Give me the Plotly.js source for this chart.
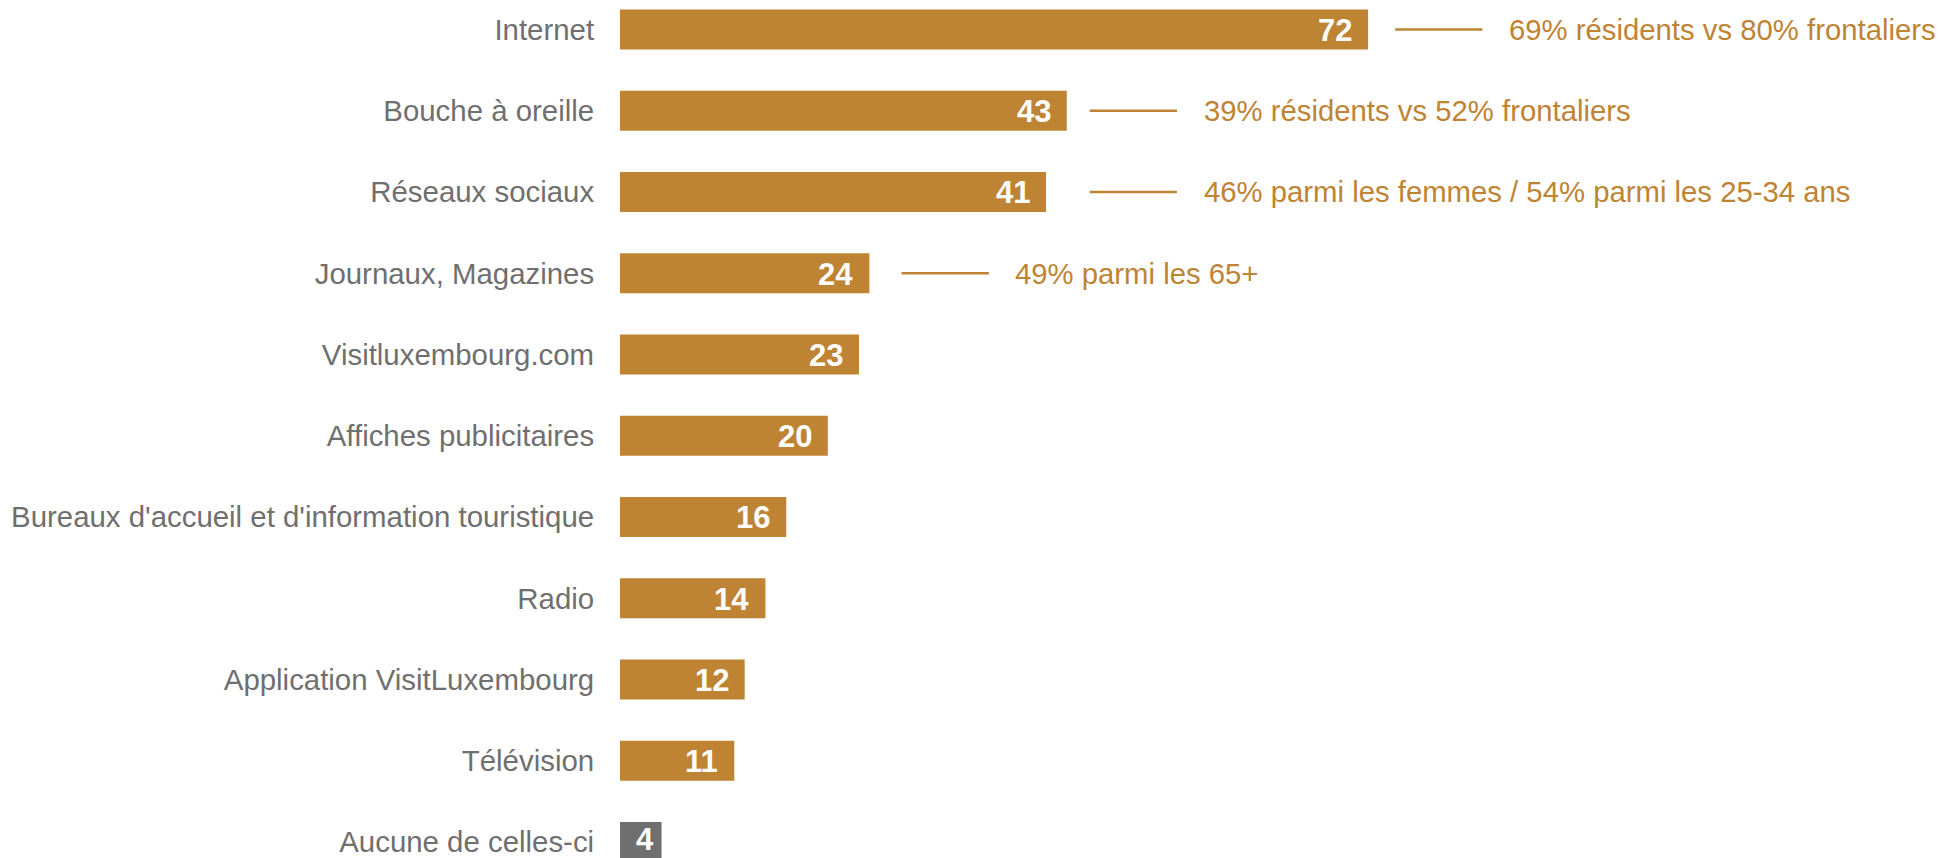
<!DOCTYPE html>
<html>
<head>
<meta charset="utf-8">
<script src="https://cdn.plot.ly/plotly-3.0.1.min.js"></script>
<style>
html,body{margin:0;padding:0;background:#fff;}
#chart{width:1943px;height:858px;}
</style>
</head>
<body>
<div id="chart"></div>
<script>
// ---- data ----
const categories = [
  "Internet",
  "Bouche à oreille",
  "Réseaux sociaux",
  "Journaux, Magazines",
  "Visitluxembourg.com",
  "Affiches publicitaires",
  "Bureaux d'accueil et d'information touristique",
  "Radio",
  "Application VisitLuxembourg",
  "Télévision",
  "Aucune de celles-ci"
];
const values = [72, 43, 41, 24, 23, 20, 16, 14, 12, 11, 4];
const noteCategories = ["Internet", "Bouche à oreille", "Réseaux sociaux", "Journaux, Magazines"];
const noteTexts = [
  "69% résidents vs 80% frontaliers",
  "39% résidents vs 52% frontaliers",
  "46% parmi les femmes / 54% parmi les 25-34 ans",
  "49% parmi les 65+"
];

// ---- styling / layout ----
const GOLD = "#BF8334";
const GREY = "#6F6F6F";
const FONT = "'Liberation Sans', Arial, sans-serif";
// connector line [start, end] and text start, in x-axis units, per note
const noteGeom = [
  {x0: 74.6, x1: 83.0, tx: 85.4},
  {x0: 45.2, x1: 53.6, tx: 56.0},
  {x0: 45.2, x1: 53.6, tx: 56.0},
  {x0: 27.1, x1: 35.5, tx: 37.8}
];

const idx = categories.map((c, i) => i);
const barColors = categories.map(c => c === "Aucune de celles-ci" ? GREY : GOLD);

const trace = {
  type: "bar",
  orientation: "h",
  x: values,
  y: idx,
  width: 0.49,
  marker: {color: barColors},
  hoverinfo: "skip"
};

const annotations = values.map((v, i) => ({
  x: v, y: i, xref: "x", yref: "y",
  text: "<b>" + v + "</b>",
  xanchor: "right", yanchor: "middle",
  xshift: v < 10 ? -7 : -15, yshift: v < 10 ? 2 : -1,
  borderpad: 0,
  showarrow: false,
  font: {family: FONT, size: 31, color: "#FFFFFF"}
}));

const shapes = [];
noteCategories.forEach((c, k) => {
  const i = categories.indexOf(c);
  const g = noteGeom[k];
  shapes.push({
    type: "line", xref: "x", yref: "y",
    x0: g.x0, x1: g.x1, y0: i, y1: i,
    line: {color: GOLD, width: 2.5}
  });
  annotations.push({
    x: g.tx, y: i, xref: "x", yref: "y",
    text: noteTexts[k],
    xanchor: "left", yanchor: "middle",
    showarrow: false,
    font: {family: FONT, size: 29.3, color: GOLD}
  });
});

const layout = {
  width: 1943,
  height: 858,
  margin: {l: 620, r: 0, t: 0, b: 0, pad: 0},
  paper_bgcolor: "#FFFFFF",
  plot_bgcolor: "#FFFFFF",
  showlegend: false,
  font: {family: FONT},
  xaxis: {
    range: [0, 127.33],
    visible: false,
    showgrid: false,
    zeroline: false,
    fixedrange: true
  },
  yaxis: {
    range: [10.197, -0.363],
    tickmode: "array",
    tickvals: idx,
    ticktext: categories,
    showgrid: false,
    zeroline: false,
    showline: false,
    ticks: "outside",
    ticklen: 19,
    tickcolor: "rgba(0,0,0,0)",
    ticklabeloverflow: "allow",
    tickfont: {family: FONT, size: 29.4, color: GREY},
    fixedrange: true
  },
  shapes: shapes,
  annotations: annotations
};

Plotly.newPlot("chart", [trace], layout, {displayModeBar: false, staticPlot: true});
</script>
</body>
</html>
